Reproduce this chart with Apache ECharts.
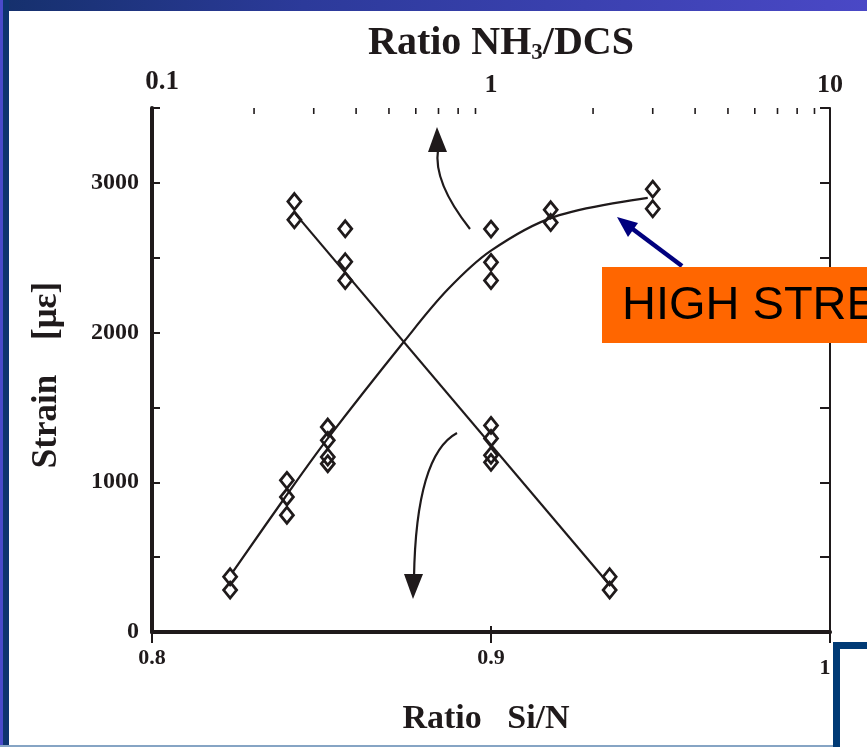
<!DOCTYPE html>
<html>
<head>
<meta charset="utf-8">
<script src="https://cdn.jsdelivr.net/npm/echarts@6/dist/echarts.min.js"></script>
<style>
html,body{margin:0;padding:0;background:#ffffff;}
#chart{width:867px;height:747px;}
</style>
</head>
<body>
<div id="chart"></div>
<script>
// ---- Data ----
// Decreasing series: strain vs Si/N ratio (bottom, linear axis)
const siNRatio   = [0.842, 0.842, 0.857, 0.857, 0.857, 0.900, 0.900, 0.900, 0.900, 0.935, 0.935];
const strainSiN  = [2875, 2753, 2693, 2473, 2347, 1380, 1293, 1180, 1133, 369, 280];
// straight fit line through the Si/N points
const siNFitX    = [0.8423, 0.9345];
const siNFitY    = [2793, 327];

// Increasing series: strain vs NH3/DCS ratio (top, log axis)
const nh3Ratio   = [0.17, 0.17, 0.25, 0.25, 0.25, 0.33, 0.33, 0.33, 0.33, 1.0, 1.0, 1.0, 1.5, 1.5, 3.0, 3.0];
const strainNH3  = [369, 280, 1013, 902, 780, 1369, 1280, 1169, 1124, 2691, 2469, 2347, 2820, 2735, 2958, 2827];
// fitted curve through the NH3/DCS points
const nh3FitX    = [0.173, 0.247, 0.328, 0.557, 0.745, 1.0, 1.535, 2.9];
const nh3FitY    = [400, 900, 1285, 1947, 2287, 2547, 2773, 2900];

// Axis ticks / labels
const siNTicks   = [0.8, 0.9, 1.0];
const nh3Labels  = [0.1, 1, 10];
const nh3Minor   = [0.2, 0.3, 0.4, 0.5, 0.6, 0.7, 0.8, 0.9, 2, 3, 4, 5, 6, 7, 8, 9];
const strainMax  = 3500;

// ---- Chart ----
const INK = '#1f1a1b';
const SERIF = '"Liberation Serif","Times New Roman",serif';
const chart = echarts.init(document.getElementById('chart'), null, {renderer: 'canvas'});

const pair = (xs, ys) => xs.map((x, i) => [x, ys[i]]);
const lblFont = {fontFamily: SERIF, fontWeight: 'bold', color: INK};

const option = {
  backgroundColor: '#ffffff',
  animation: false,
  grid: {left: 152, right: 37, top: 108, bottom: 115, containLabel: false},
  xAxis: [
    {
      type: 'value', position: 'bottom', min: 0.8, max: 1.0, interval: 0.1,
      axisLine: {lineStyle: {color: INK, width: 4}},
      axisTick: {inside: true, length: 6, lineStyle: {color: INK, width: 2}},
      splitLine: {show: false},
      axisLabel: {
        color: INK, fontFamily: SERIF, fontWeight: 'bold', fontSize: 22, margin: 15,
        formatter: v => {
          if (Math.abs(v - 1.0) < 1e-6) return '{e|1}';
          return siNTicks.some(t => Math.abs(t - v) < 1e-6) ? v.toFixed(1) : '';
        },
        rich: {e: Object.assign({fontSize: 22, padding: [10, 10, 0, 0]}, lblFont)}
      },
      name: 'Ratio   Si/N', nameLocation: 'middle', nameGap: 70,
      nameTextStyle: {color: INK, fontFamily: SERIF, fontWeight: 'bold', fontSize: 34, padding: [0, 10, 0, 0]}
    },
    {
      type: 'log', logBase: 10, position: 'top', min: 0.1, max: 10,
      axisLine: {lineStyle: {color: INK, width: 3}},
      axisTick: {inside: true, length: 11, lineStyle: {color: INK, width: 2}},
      splitLine: {show: false},
      axisLabel: {
        color: INK, fontFamily: SERIF, fontWeight: 'bold', fontSize: 26, margin: 10,
        formatter: v => {
          const hit = nh3Labels.find(t => Math.abs(t - v) / t < 1e-6);
          if (hit === undefined) return '';
          if (hit === 0.1) return '{f|0.1}';
          return String(hit);
        },
        rich: {f: Object.assign({fontSize: 27, padding: [0, 0, 2, 20]}, lblFont)}
      },
      name: '{a|Ratio NH}{s|3}{a|/DCS}', nameLocation: 'middle', nameGap: 40,
      nameTextStyle: {
        color: INK, padding: [0, 0, 0, 20],
        rich: {
          a: {fontFamily: SERIF, fontWeight: 'bold', fontSize: 40, color: INK},
          s: {fontFamily: SERIF, fontWeight: 'bold', fontSize: 23, color: INK, verticalAlign: 'bottom', padding: [15, 0, 0, 0]}
        }
      }
    }
  ],
  yAxis: [
    {
      type: 'value', position: 'left', min: 0, max: strainMax, interval: 500,
      axisLine: {lineStyle: {color: INK, width: 4}},
      axisTick: {inside: true, length: 8, lineStyle: {color: INK, width: 2}},
      splitLine: {show: false},
      axisLabel: {
        color: INK, fontFamily: SERIF, fontWeight: 'bold', fontSize: 24, margin: 13,
        formatter: v => (v % 1000 === 0 ? String(v) : '')
      },
      name: 'Strain    [με]', nameLocation: 'middle', nameGap: 88, nameRotate: 90,
      nameTextStyle: {color: INK, fontFamily: SERIF, fontWeight: 'bold', fontSize: 35, padding: [0, 10, 0, 0]}
    },
    {
      type: 'value', position: 'right', min: 0, max: strainMax, interval: 500,
      axisLine: {show: true, lineStyle: {color: INK, width: 2}},
      axisTick: {show: true, inside: true, length: 10, lineStyle: {color: INK, width: 2}},
      axisLabel: {show: false},
      splitLine: {show: false}
    }
  ],
  series: [
    {
      type: 'line', xAxisIndex: 0, yAxisIndex: 0, data: pair(siNFitX, siNFitY),
      symbol: 'none', lineStyle: {color: INK, width: 2.2}, z: 4, silent: true
    },
    {
      type: 'line', xAxisIndex: 1, yAxisIndex: 0, data: pair(nh3FitX, nh3FitY),
      symbol: 'none', smooth: 0.35, lineStyle: {color: INK, width: 2.2}, z: 4, silent: true
    },
    {
      type: 'scatter', xAxisIndex: 0, yAxisIndex: 0, data: pair(siNRatio, strainSiN),
      symbol: 'diamond', symbolSize: [13, 16],
      itemStyle: {color: 'rgba(255,255,255,0)', borderColor: INK, borderWidth: 2.8, opacity: 1}, z: 3
    },
    {
      type: 'scatter', xAxisIndex: 1, yAxisIndex: 0, data: pair(nh3Ratio, strainNH3),
      symbol: 'diamond', symbolSize: [13, 16],
      itemStyle: {color: 'rgba(255,255,255,0)', borderColor: INK, borderWidth: 2.8, opacity: 1}, z: 3
    },
    {
      type: 'custom', xAxisIndex: 1, yAxisIndex: 0, silent: true,
      data: nh3Minor.map(v => [v, strainMax]),
      renderItem: (params, api) => {
        const p = api.coord([api.value(0), api.value(1)]);
        return {type: 'line', shape: {x1: p[0], y1: p[1], x2: p[0], y2: p[1] + 6},
                style: {stroke: INK, lineWidth: 1.6}};
      }
    }
  ],
  graphic: [
    // slide frame
    {type: 'rect', z: 100, shape: {x: 0, y: 0, width: 867, height: 11},
     style: {fill: new echarts.graphic.LinearGradient(0, 0, 1, 0, [
       {offset: 0, color: '#15306c'}, {offset: 0.35, color: '#2c3a9a'}, {offset: 1, color: '#4a48c6'}])}},
    {type: 'rect', z: 100, shape: {x: 0, y: 0, width: 3, height: 747}, style: {fill: '#4a4acb'}},
    {type: 'rect', z: 100, shape: {x: 3, y: 0, width: 6, height: 747}, style: {fill: '#0e3470'}},
    {type: 'rect', z: 100, shape: {x: 0, y: 745, width: 867, height: 2}, style: {fill: '#86a4c4'}},
    // curved arrows
    {type: 'bezierCurve', z: 50, shape: {x1: 470, y1: 229, cpx1: 433, cpy1: 182, x2: 438, y2: 150},
     style: {stroke: INK, lineWidth: 2.2, fill: null}},
    {type: 'polygon', z: 50, shape: {points: [[437, 127], [428, 152], [447, 152]]}, style: {fill: INK}},
    {type: 'bezierCurve', z: 50, shape: {x1: 457, y1: 433, cpx1: 416, cpy1: 455, x2: 414, y2: 578},
     style: {stroke: INK, lineWidth: 2.2, fill: null}},
    {type: 'polygon', z: 50, shape: {points: [[413, 599], [404, 574], [423, 574]]}, style: {fill: INK}},
    // HIGH STRESS callout
    {type: 'line', z: 60, shape: {x1: 682, y1: 266, x2: 630, y2: 227},
     style: {stroke: '#00007e', lineWidth: 4.5}},
    {type: 'polygon', z: 60, shape: {points: [[617, 217], [638, 223], [628, 237]]}, style: {fill: '#00007e'}},
    {type: 'rect', z: 70, shape: {x: 602, y: 267, width: 265, height: 76}, style: {fill: '#ff6600'}},
    {type: 'text', z: 71, style: {x: 622, y: 306, text: 'HIGH STRESS', fill: '#000000',
      font: '47px "Liberation Sans", Arial, sans-serif', verticalAlign: 'middle', textAlign: 'left'}},
    // bottom-right blue box
    {type: 'rect', z: 100, shape: {x: 836.5, y: 645.5, width: 60, height: 130},
     style: {fill: '#ffffff', stroke: '#003a75', lineWidth: 7}}
  ]
};
chart.setOption(option);
</script>
</body>
</html>
